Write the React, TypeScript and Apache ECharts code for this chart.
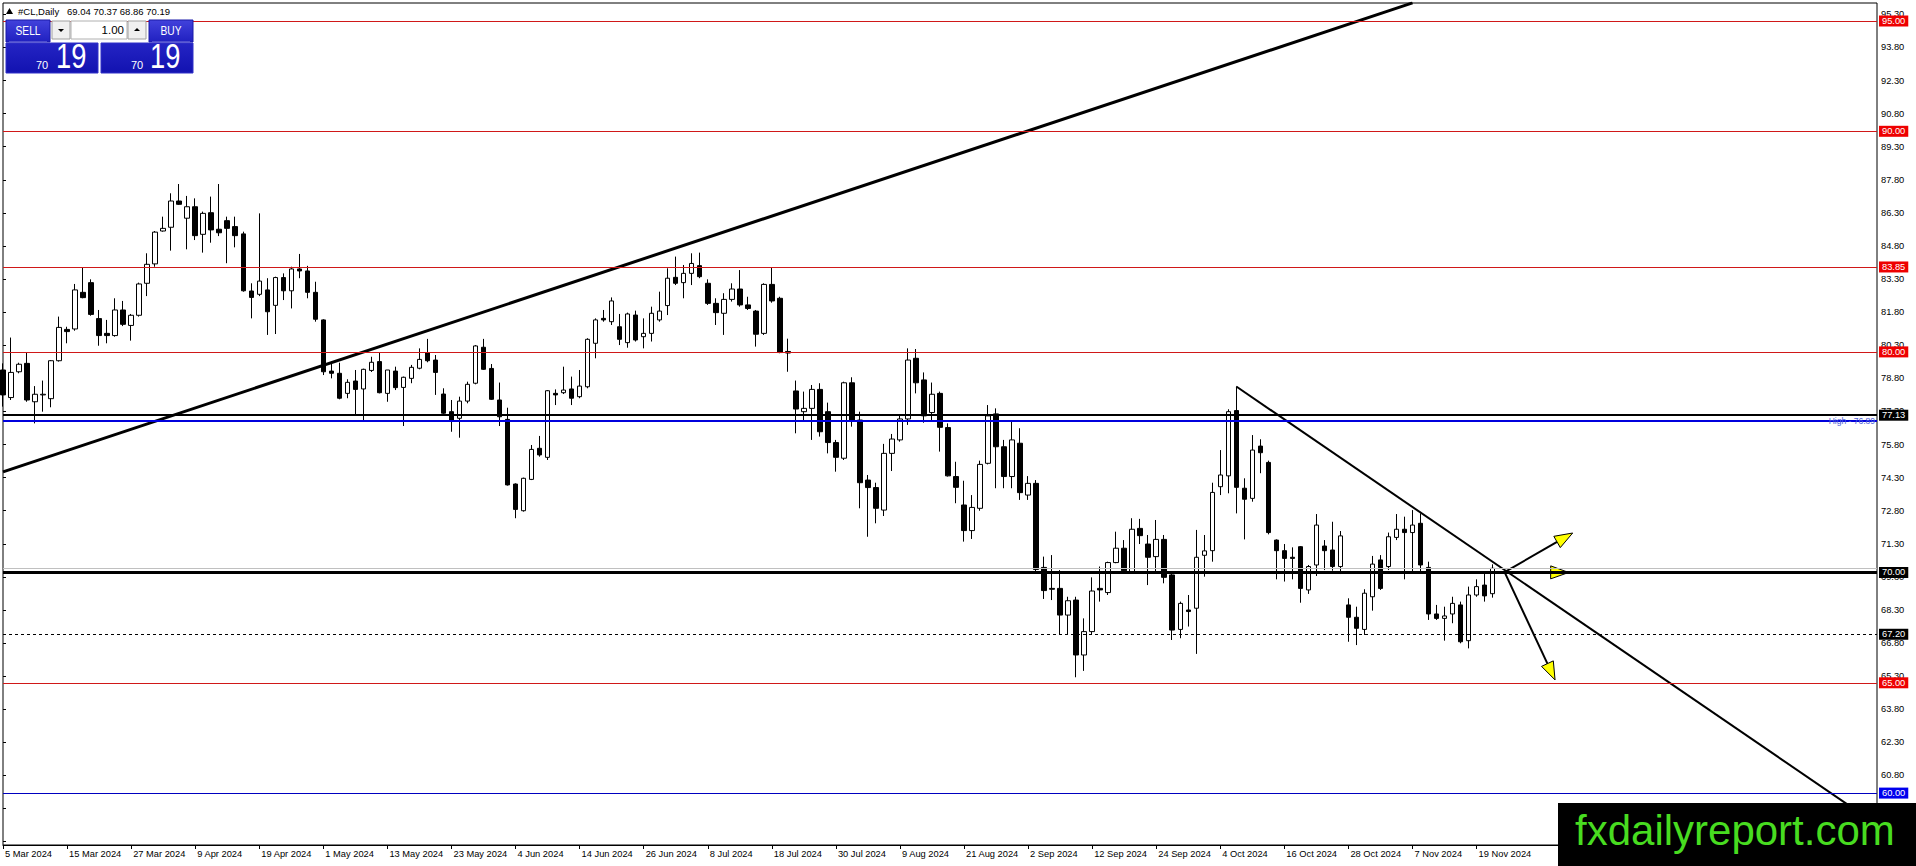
import { useEffect, useRef } from 'react';
import * as echarts from 'echarts';

const FONT = '"Liberation Sans", Arial, sans-serif';

// daily bars, [open, high, low, close]
const candles: number[][] = [
  [79.18, 79.48, 77.52, 78.05], [77.93, 80.65, 77.82, 79.07], [79.10, 79.51, 79.03, 79.44], [79.48, 79.97, 77.74, 77.82],
  [77.74, 78.45, 76.76, 78.08], [78.05, 78.70, 77.29, 78.08], [77.88, 79.63, 77.49, 79.60], [79.60, 81.60, 79.56, 81.11],
  [81.02, 81.14, 80.39, 80.92], [81.04, 83.08, 80.96, 82.81], [82.70, 83.83, 82.43, 82.46], [83.14, 83.29, 81.64, 81.70],
  [81.51, 81.90, 80.28, 80.74], [80.84, 81.45, 80.39, 80.74], [80.74, 82.43, 80.69, 81.90], [81.90, 82.31, 81.17, 81.25],
  [81.20, 81.72, 80.51, 81.66], [81.66, 83.14, 81.60, 83.08], [83.11, 84.47, 82.53, 83.97], [83.99, 85.48, 83.86, 85.43],
  [85.48, 86.13, 85.45, 85.60], [85.65, 87.19, 84.59, 86.84], [86.84, 87.61, 86.66, 86.69], [86.06, 87.07, 84.65, 86.58],
  [86.58, 86.96, 85.07, 85.27], [85.33, 86.36, 84.50, 86.28], [86.31, 87.04, 84.95, 85.53], [85.56, 87.61, 85.25, 85.40],
  [85.95, 86.13, 84.02, 85.60], [85.68, 86.13, 84.74, 85.27], [85.35, 85.45, 82.73, 82.77], [82.76, 83.11, 81.52, 82.47],
  [82.61, 86.28, 82.53, 83.21], [82.81, 83.34, 80.77, 81.82], [82.11, 83.41, 80.81, 83.37], [83.37, 83.56, 82.35, 82.77],
  [82.77, 83.86, 81.97, 83.76], [83.76, 84.44, 83.34, 83.67], [83.67, 83.90, 82.43, 82.70], [82.70, 83.18, 81.37, 81.48],
  [81.45, 81.48, 78.95, 79.10], [79.13, 79.56, 78.80, 79.03], [79.03, 79.51, 77.85, 77.90], [78.12, 78.76, 77.90, 78.62],
  [78.68, 79.18, 77.14, 78.30], [78.32, 79.24, 76.91, 79.21], [79.16, 79.78, 79.09, 79.53], [79.56, 79.97, 78.12, 78.15],
  [78.12, 79.18, 77.74, 79.18], [79.13, 79.33, 78.27, 78.38], [78.39, 78.88, 76.64, 78.85], [78.80, 79.41, 78.58, 79.30],
  [79.26, 80.16, 79.21, 79.66], [79.97, 80.59, 79.53, 79.60], [79.63, 79.86, 78.05, 79.07], [78.09, 78.35, 77.17, 77.22],
  [77.29, 77.82, 76.38, 76.91], [76.99, 77.97, 76.11, 77.77], [77.77, 78.65, 77.67, 78.53], [78.58, 80.31, 78.53, 80.27],
  [80.21, 80.59, 79.18, 79.21], [79.25, 79.45, 77.82, 77.85], [77.82, 78.61, 76.64, 77.06], [76.94, 77.47, 73.94, 73.97],
  [74.01, 74.04, 72.46, 72.86], [72.80, 74.30, 72.76, 74.27], [74.22, 75.78, 74.19, 75.58], [75.63, 76.19, 75.25, 75.33],
  [75.22, 78.27, 75.10, 78.24], [78.12, 78.30, 77.59, 78.05], [78.15, 79.33, 78.09, 78.27], [78.32, 78.88, 77.59, 77.90],
  [77.97, 79.18, 77.90, 78.45], [78.42, 80.62, 78.35, 80.57], [80.39, 81.52, 79.71, 81.45], [81.52, 81.90, 81.37, 81.45],
  [81.37, 82.47, 81.22, 82.31], [81.14, 81.72, 80.31, 80.57], [80.42, 81.78, 80.19, 81.72], [81.67, 81.87, 80.47, 80.54],
  [80.69, 81.52, 80.16, 80.84], [80.84, 82.05, 80.47, 81.75], [81.45, 82.73, 81.37, 81.85], [82.10, 83.79, 81.67, 83.34],
  [83.38, 84.32, 83.03, 83.11], [83.14, 83.94, 82.43, 83.56], [83.56, 84.47, 83.03, 84.01], [83.91, 84.50, 83.34, 83.41],
  [83.11, 83.29, 82.13, 82.20], [82.20, 82.43, 81.22, 81.78], [81.75, 82.66, 80.77, 82.38], [82.38, 83.11, 82.28, 82.85],
  [82.85, 83.71, 82.05, 82.13], [82.13, 82.50, 81.90, 81.97], [81.85, 81.90, 80.24, 80.80], [80.84, 83.11, 80.77, 83.06],
  [83.06, 83.82, 82.23, 82.31], [82.43, 82.50, 79.94, 79.97], [80.02, 80.60, 79.10, 79.95], [78.23, 78.70, 76.31, 77.41],
  [77.29, 78.20, 76.84, 77.44], [77.44, 78.50, 76.01, 78.30], [78.30, 78.58, 76.16, 76.38], [77.29, 77.70, 75.40, 75.89],
  [75.89, 76.01, 74.57, 75.22], [75.18, 78.65, 75.10, 78.60], [78.60, 78.85, 76.61, 76.91], [76.91, 77.29, 72.91, 74.07],
  [74.19, 74.42, 71.62, 73.85], [73.85, 74.07, 72.23, 72.91], [72.83, 75.83, 72.56, 75.40], [75.40, 76.28, 74.60, 76.05],
  [76.01, 77.10, 75.93, 76.96], [76.96, 80.16, 76.69, 79.63], [79.71, 80.13, 78.12, 78.60], [78.73, 79.07, 76.79, 77.10],
  [77.25, 78.61, 76.84, 78.08], [78.12, 78.20, 75.48, 76.58], [76.57, 76.76, 74.35, 74.38], [74.35, 75.02, 73.14, 73.86],
  [73.06, 74.16, 71.40, 71.90], [71.90, 73.51, 71.52, 72.95], [72.91, 75.07, 72.80, 74.90], [74.95, 77.59, 74.90, 77.10],
  [77.19, 77.44, 73.82, 75.70], [75.70, 76.01, 73.82, 74.35], [74.35, 76.91, 73.82, 76.01], [75.86, 76.54, 73.29, 73.62],
  [73.51, 74.37, 73.29, 74.04], [74.04, 74.19, 70.04, 70.14], [70.23, 70.72, 68.80, 69.18], [69.28, 70.79, 68.75, 69.24],
  [69.28, 70.11, 67.17, 68.07], [68.07, 68.90, 67.17, 68.72], [68.75, 68.90, 65.25, 66.26], [66.26, 67.92, 65.54, 67.32],
  [67.32, 69.78, 67.17, 69.16], [69.28, 70.27, 68.68, 69.21], [69.09, 70.49, 68.98, 70.45], [70.45, 71.85, 70.42, 71.10],
  [71.10, 71.47, 69.96, 70.08], [70.04, 72.46, 69.96, 71.96], [72.00, 72.43, 71.29, 71.67], [71.29, 71.70, 69.43, 70.69],
  [70.72, 72.38, 69.96, 71.50], [71.50, 71.70, 69.51, 69.78], [69.89, 69.96, 66.94, 67.39], [67.42, 68.68, 67.02, 68.60],
  [68.30, 68.98, 67.55, 68.23], [68.38, 71.93, 66.31, 70.69], [70.78, 71.70, 69.81, 70.98], [70.99, 74.07, 70.49, 73.63],
  [73.89, 75.55, 73.51, 74.42], [74.38, 77.40, 73.59, 77.29], [77.34, 78.43, 72.68, 73.86], [73.82, 74.27, 71.50, 73.32],
  [73.36, 76.23, 73.21, 75.55], [75.73, 76.04, 74.50, 75.43], [74.99, 75.07, 71.73, 71.81], [71.47, 71.50, 69.69, 70.99],
  [70.99, 71.29, 69.59, 70.64], [70.69, 71.14, 69.69, 70.64], [71.17, 71.20, 68.63, 69.28], [69.21, 70.34, 69.03, 70.27],
  [70.34, 72.65, 69.84, 72.15], [71.20, 71.47, 70.11, 70.99], [71.02, 72.30, 70.08, 70.27], [70.27, 71.88, 69.93, 71.66],
  [68.53, 68.83, 66.86, 67.97], [67.97, 68.45, 66.71, 67.47], [67.42, 69.24, 67.17, 69.06], [68.90, 70.75, 68.27, 70.38],
  [70.57, 70.79, 69.21, 69.28], [70.27, 71.81, 70.11, 71.62], [71.59, 72.65, 71.47, 71.96], [71.96, 72.53, 69.69, 71.81],
  [71.81, 72.83, 69.96, 72.15], [72.23, 72.68, 69.96, 70.34], [70.23, 70.49, 67.85, 68.12], [68.12, 68.53, 67.85, 67.92],
  [67.92, 68.45, 66.91, 68.03], [68.12, 68.90, 67.70, 68.60], [68.53, 68.68, 66.79, 66.86], [66.91, 69.36, 66.56, 68.98],
  [68.98, 69.69, 68.90, 69.36], [69.43, 69.96, 68.68, 68.94], [69.04, 70.37, 68.86, 70.19],
];

// one label every 8 bars
const tickLabels = [
  '5 Mar 2024', '15 Mar 2024', '27 Mar 2024', '9 Apr 2024', '19 Apr 2024', '1 May 2024',
  '13 May 2024', '23 May 2024', '4 Jun 2024', '14 Jun 2024', '26 Jun 2024', '8 Jul 2024',
  '18 Jul 2024', '30 Jul 2024', '9 Aug 2024', '21 Aug 2024', '2 Sep 2024', '12 Sep 2024',
  '24 Sep 2024', '4 Oct 2024', '16 Oct 2024', '28 Oct 2024', '7 Nov 2024', '19 Nov 2024',
];
const LABEL_EVERY = 8;
const SLOT_COUNT = 235; // bars + empty space on the right

const PRICE_MIN = 57.647;
const PRICE_MAX = 95.816;
const priceTicks = [
  95.3, 93.8, 92.3, 90.8, 89.3, 87.8, 86.3, 84.8, 83.3, 81.8, 80.3, 78.8, 77.3,
  75.8, 74.3, 72.8, 71.3, 69.8, 68.3, 66.8, 65.3, 63.8, 62.3, 60.8, 59.3, 57.8,
];

const redLevels = [95, 90, 83.85, 80, 65];
const blackLevels = [77.13, 70];
const highLevel = 76.89;
const bidLevel = 70.19;
const dashedLevel = 67.2;
const blueLevel = 60;

// trend lines in [bar index, price]
const risingTrend = [[0, 74.56], [176, 95.82]];
const fallingTrend = [[154, 78.43], [234, 58.57]];
// arrows: [x0, y0, x1, y1]
const arrows = [
  [187.5, 70.02, 196.0, 71.79],
  [187.5, 70.02, 195.5, 70.0],
  [187.5, 70.02, 193.8, 65.13],
];

const boxLabel = (text: string, bg: string) => ({
  show: true,
  position: 'end',
  distance: 2,
  formatter: text,
  color: '#fff',
  backgroundColor: bg,
  padding: [1, 3, 0, 3],
  fontFamily: FONT,
  fontSize: 9.3,
  lineHeight: 10,
});

function buildGraphics() {
  const btn = new echarts.graphic.LinearGradient(0, 0, 0, 1, [
    { offset: 0, color: '#4242dc' },
    { offset: 1, color: '#2020c0' },
  ]);
  const box = new echarts.graphic.LinearGradient(0, 0, 0, 1, [
    { offset: 0, color: '#2424c4' },
    { offset: 1, color: '#1212b0' },
  ]);
  const small = { fill: '#f0f0f0', stroke: '#a0a0a0', lineWidth: 1 };
  const items: any[] = [
    { type: 'polygon', shape: { points: [[6, 14], [13, 14], [9.5, 8]] }, style: { fill: '#000' } },
    { type: 'text', x: 18, y: 11, style: { text: '#CL,Daily', font: `9.5px ${FONT}`, fill: '#000', verticalAlign: 'middle' } },
    { type: 'text', x: 67, y: 11, style: { text: '69.04 70.37 68.86 70.19', font: `9.5px ${FONT}`, fill: '#000', verticalAlign: 'middle' } },

    { type: 'rect', shape: { x: 6, y: 20, width: 44, height: 22 }, style: { fill: btn, stroke: '#1a1aa8', lineWidth: 1 } },
    { type: 'text', x: 28, y: 31, scaleX: 0.85, style: { text: 'SELL', font: `12px ${FONT}`, fill: '#fff', align: 'center', verticalAlign: 'middle' } },
    { type: 'rect', shape: { x: 52, y: 21, width: 18, height: 18 }, style: small },
    { type: 'polygon', shape: { points: [[58, 29], [64, 29], [61, 32]] }, style: { fill: '#000' } },
    { type: 'rect', shape: { x: 71, y: 21, width: 56, height: 18 }, style: { fill: '#fff', stroke: '#b0b0b0', lineWidth: 1 } },
    { type: 'text', x: 124, y: 30, style: { text: '1.00', font: `11.5px ${FONT}`, fill: '#000', align: 'right', verticalAlign: 'middle' } },
    { type: 'rect', shape: { x: 128, y: 21, width: 18, height: 18 }, style: small },
    { type: 'polygon', shape: { points: [[134, 31], [140, 31], [137, 28]] }, style: { fill: '#000' } },
    { type: 'rect', shape: { x: 149, y: 20, width: 44, height: 22 }, style: { fill: btn, stroke: '#1a1aa8', lineWidth: 1 } },
    { type: 'text', x: 171, y: 31, scaleX: 0.85, style: { text: 'BUY', font: `12px ${FONT}`, fill: '#fff', align: 'center', verticalAlign: 'middle' } },
    { type: 'line', shape: { x1: 9, y1: 42, x2: 47, y2: 42 }, style: { stroke: '#8080e8', lineWidth: 1 } },
    { type: 'line', shape: { x1: 152, y1: 42, x2: 190, y2: 42 }, style: { stroke: '#8080e8', lineWidth: 1 } },

    { type: 'rect', shape: { x: 6, y: 43, width: 92, height: 30 }, style: { fill: box, stroke: '#3030c8', lineWidth: 1 } },
    { type: 'text', x: 36, y: 65, style: { text: '70', font: `11px ${FONT}`, fill: '#fff', verticalAlign: 'middle' } },
    { type: 'text', x: 56, y: 56, scaleX: 0.78, style: { text: '19', font: `35px ${FONT}`, fill: '#fff', verticalAlign: 'middle' } },
    { type: 'rect', shape: { x: 101, y: 43, width: 92, height: 30 }, style: { fill: box, stroke: '#3030c8', lineWidth: 1 } },
    { type: 'text', x: 131, y: 65, style: { text: '70', font: `11px ${FONT}`, fill: '#fff', verticalAlign: 'middle' } },
    { type: 'text', x: 150, y: 56, scaleX: 0.78, style: { text: '19', font: `35px ${FONT}`, fill: '#fff', verticalAlign: 'middle' } },

    { type: 'rect', shape: { x: 1558, y: 803, width: 358, height: 63 }, style: { fill: '#000' } },
    { type: 'text', x: 1575, y: 830, style: { text: 'fxdailyreport.com', font: `42px ${FONT}`, fill: '#48dc20', verticalAlign: 'middle' } },
  ];
  return items.map((g) => ({ ...g, z: 100 }));
}

function buildOption() {
  const slots = Array.from({ length: SLOT_COUNT }, (_, i) => String(i));
  const showTick = (i: number) => i % LABEL_EVERY === 0 && i / LABEL_EVERY < tickLabels.length;

  const levelLines: any[] = [
    ...redLevels.map((v) => ({
      yAxis: v,
      lineStyle: { color: '#d01818', width: 1, type: 'solid' },
      label: boxLabel(v.toFixed(2), '#ee0000'),
    })),
    {
      yAxis: highLevel,
      lineStyle: { color: '#0000dd', width: 2, type: 'solid' },
      label: { show: true, position: 'insideEnd', distance: 2, formatter: 'High - 76.89', color: '#5060d8', fontFamily: FONT, fontSize: 8.5 },
    },
    { yAxis: bidLevel, lineStyle: { color: '#c0c0c0', width: 1, type: 'solid' }, label: { show: false } },
    ...blackLevels.map((v, i) => ({
      yAxis: v,
      lineStyle: { color: '#000', width: i === 0 ? 2 : 3, type: 'solid' },
      label: boxLabel(v.toFixed(2), '#000'),
    })),
    { yAxis: dashedLevel, lineStyle: { color: '#000', width: 1, type: [3, 3] }, label: boxLabel(dashedLevel.toFixed(2), '#000') },
    { yAxis: blueLevel, lineStyle: { color: '#0000c0', width: 1, type: 'solid' }, label: boxLabel(blueLevel.toFixed(2), '#0000ee') },
  ];

  return {
    animation: false,
    backgroundColor: '#fff',
    grid: { left: 3, right: 39, top: 3, bottom: 21, show: true, borderColor: '#000', borderWidth: 1 },
    xAxis: [
      {
        type: 'category',
        data: slots,
        boundaryGap: false,
        axisLine: { lineStyle: { color: '#000', width: 1 } },
        axisTick: { interval: showTick, length: 4, lineStyle: { color: '#000' } },
        axisLabel: {
          interval: showTick,
          formatter: (_v: string, i: number) => tickLabels[i / LABEL_EVERY] ?? '',
          align: 'left',
          margin: 4,
          padding: [0, 0, 0, 2],
          color: '#000',
          fontFamily: FONT,
          fontSize: 9.3,
        },
        splitLine: { show: false },
      },
      { type: 'value', min: 0, max: SLOT_COUNT - 1, show: false },
    ],
    yAxis: {
      type: 'value',
      position: 'right',
      min: PRICE_MIN,
      max: PRICE_MAX,
      axisLine: { show: false },
      axisTick: { show: true, length: 3, customValues: priceTicks, lineStyle: { color: '#000' } },
      splitLine: { show: false },
      axisLabel: {
        customValues: priceTicks,
        margin: 4,
        color: '#000',
        fontFamily: FONT,
        fontSize: 9.3,
        formatter: (v: number) => v.toFixed(2),
      },
    },
    series: [
      {
        type: 'candlestick',
        xAxisIndex: 0,
        barWidth: 5,
        data: candles.map(([o, h, l, c]) => [o, c, l, h]),
        itemStyle: { color: '#fff', color0: '#000', borderColor: '#000', borderColor0: '#000', borderWidth: 1 },
        markLine: { silent: true, symbol: 'none', animation: false, data: levelLines },
      },
      {
        type: 'line',
        xAxisIndex: 1,
        data: risingTrend,
        symbol: 'none',
        silent: true,
        lineStyle: { color: '#000', width: 3 },
      },
      {
        type: 'line',
        xAxisIndex: 1,
        data: fallingTrend,
        symbol: 'none',
        silent: true,
        lineStyle: { color: '#000', width: 2 },
      },
      {
        type: 'custom',
        xAxisIndex: 1,
        silent: true,
        data: arrows,
        renderItem: (_p: any, api: any) => {
          const p0 = api.coord([api.value(0), api.value(1)]);
          const p1 = api.coord([api.value(2), api.value(3)]);
          const dx = p1[0] - p0[0];
          const dy = p1[1] - p0[1];
          const len = Math.hypot(dx, dy);
          const ux = dx / len;
          const uy = dy / len;
          const headLen = 18;
          const headW = 6.5;
          const bx = p1[0] - ux * headLen;
          const by = p1[1] - uy * headLen;
          return {
            type: 'group',
            children: [
              { type: 'line', shape: { x1: p0[0], y1: p0[1], x2: bx, y2: by }, style: { stroke: '#000', lineWidth: 2 } },
              {
                type: 'polygon',
                shape: { points: [p1, [bx - uy * headW, by + ux * headW], [bx + uy * headW, by - ux * headW]] },
                style: { fill: '#ffff00', stroke: '#000', lineWidth: 1 },
              },
            ],
          };
        },
      },
    ],
    graphic: buildGraphics(),
  };
}

export default function App() {
  const chartRef = useRef<HTMLDivElement>(null);

  useEffect(() => {
    if (!chartRef.current) return;
    const chart = echarts.init(chartRef.current, undefined, { renderer: 'svg' });
    chart.setOption(buildOption() as any);
    return () => chart.dispose();
  }, []);

  return (
    <div
      ref={chartRef}
      style={{ position: 'fixed', left: 0, top: 0, width: 1916, height: 866, background: '#fff' }}
    />
  );
}
